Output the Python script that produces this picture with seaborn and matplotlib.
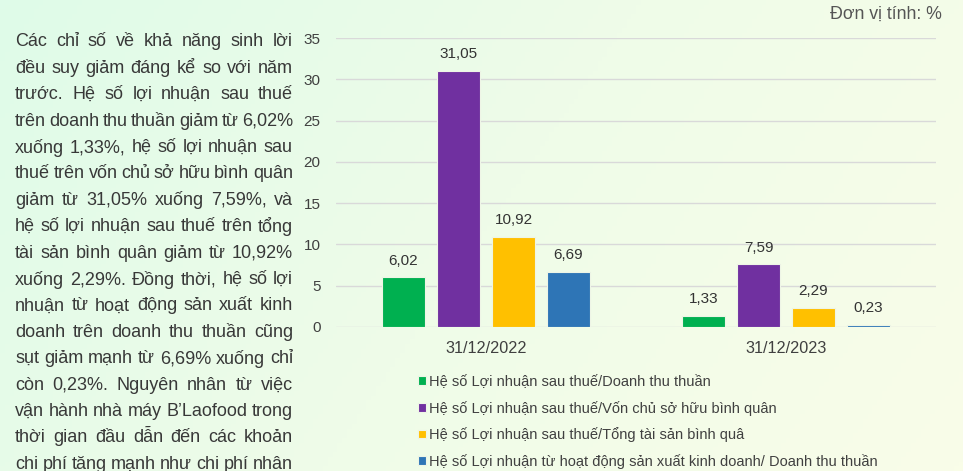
import matplotlib
matplotlib.use("Agg")
import matplotlib.pyplot as plt
import numpy as np
import pandas as pd
import seaborn as sns
from matplotlib.colors import LinearSegmentedColormap

# ---- data ----
periods = ["31/12/2022", "31/12/2023"]
metrics = [
    "Hệ số Lợi nhuận sau thuế/Doanh thu thuần",
    "Hệ số Lợi nhuận sau thuế/Vốn chủ sở hữu bình quân",
    "Hệ số Lợi nhuận sau thuế/Tổng tài sản bình quâ",
    "Hệ số Lợi nhuận từ hoạt động sản xuất kinh doanh/ Doanh thu thuần",
]
values_2022 = [6.02, 31.05, 10.92, 6.69]
values_2023 = [1.33, 7.59, 2.29, 0.23]
colors = ["#00b050", "#7030a0", "#ffc000", "#2e75b6"]
y_ticks = [0, 5, 10, 15, 20, 25, 30, 35]
unit_label = "Đơn vị tính: %"

text_lines = [
    "Các chỉ số về khả năng sinh lời",
    "đều suy giảm đáng kể so với năm",
    "trước. Hệ số lợi nhuận sau thuế",
    "trên doanh thu thuần giảm từ 6,02%",
    "xuống 1,33%, hệ số lợi nhuận sau",
    "thuế trên vốn chủ sở hữu bình quân",
    "giảm từ 31,05% xuống 7,59%, và",
    "hệ số lợi nhuận sau thuế trên tổng",
    "tài sản bình quân giảm từ 10,92%",
    "xuống 2,29%. Đồng thời, hệ số lợi",
    "nhuận từ hoạt động sản xuất kinh",
    "doanh trên doanh thu thuần cũng",
    "sụt giảm mạnh từ 6,69% xuống chỉ",
    "còn 0,23%. Nguyên nhân từ việc",
    "vận hành nhà máy B’Laofood trong",
    "thời gian đầu dẫn đến các khoản",
    "chi phí tăng mạnh như chi phí nhân",
]

df = pd.DataFrame({
    "period": np.repeat(periods, len(metrics)),
    "metric": metrics * len(periods),
    "value": values_2022 + values_2023,
})

sns.set_theme(style="white")
plt.rcParams["font.family"] = ["Liberation Sans", "DejaVu Sans"]

W, H = 963, 471
fig = plt.figure(figsize=(W / 100, H / 100), dpi=100)

# soft mint -> pale yellow background
bg = fig.add_axes([0, 0, 1, 1], zorder=-10)
gx, gy = np.meshgrid(np.linspace(0, 1, 200), np.linspace(0, 1, 100))
grad = 0.75 * gx + 0.25 * gy
cmap = LinearSegmentedColormap.from_list("bg", ["#dffbe9", "#effce8", "#f9fde8"])
bg.imshow(grad, cmap=cmap, aspect="auto", extent=[0, 1, 0, 1], origin="upper")
bg.set_axis_off()

ax = fig.add_axes([336 / W, 1 - 327 / H, 600 / W, 289 / H])
ax.patch.set_alpha(0)
sns.barplot(data=df, x="period", y="value", hue="metric", hue_order=metrics,
            palette=colors, width=0.733, gap=0.22, saturation=1,
            edgecolor="#eef5e6", linewidth=0.8, ax=ax)

for cont in ax.containers:
    ax.bar_label(cont, labels=[f"{v:.2f}".replace(".", ",") for v in cont.datavalues],
                 padding=7, fontsize=11, color="#333333")

ax.set_ylim(0, 35)
ax.set_xlim(-0.5, 1.5)
ax.set_yticks(y_ticks)
ax.set_xlabel("")
ax.set_ylabel("")
ax.yaxis.grid(True, color="#d9d9d9", linewidth=1)
ax.set_axisbelow(True)
sns.despine(ax=ax, left=True, bottom=True)
ax.tick_params(axis="y", length=0, pad=11, labelsize=11, labelcolor="#404040")
ax.tick_params(axis="x", length=0, pad=10, labelsize=11.7, labelcolor="#404040")

handles, labels = ax.get_legend_handles_labels()
ax.get_legend().remove()
fig.legend(handles, labels, loc="upper left", bbox_to_anchor=(418 / W, 1 - 375 / H),
           frameon=False, fontsize=10.5, labelcolor="#404040", borderpad=0,
           borderaxespad=0, handlelength=0.55, handleheight=0.55,
           handletextpad=0.2, labelspacing=0.8)

fig.text(942 / W, 1 - 14 / H, unit_label, ha="right", va="center",
         fontsize=12.8, color="#555555")

# justified paragraph on the left
fig.canvas.draw()
renderer = fig.canvas.get_renderer()
left_px, right_px = 15, 293
for i, line in enumerate(text_lines):
    y = 1 - (40 + 26.4 * i) / H
    words = line.split()
    ts = [fig.text(0, y, w, fontsize=13, color="#383838", va="center_baseline")
          for w in words]
    widths = [t.get_window_extent(renderer).width for t in ts]
    gap = (right_px - left_px - sum(widths)) / max(len(words) - 1, 1)
    x = left_px
    for t, wd in zip(ts, widths):
        t.set_x(x / W)
        x += wd + gap

fig.savefig("out.png", dpi=100)
